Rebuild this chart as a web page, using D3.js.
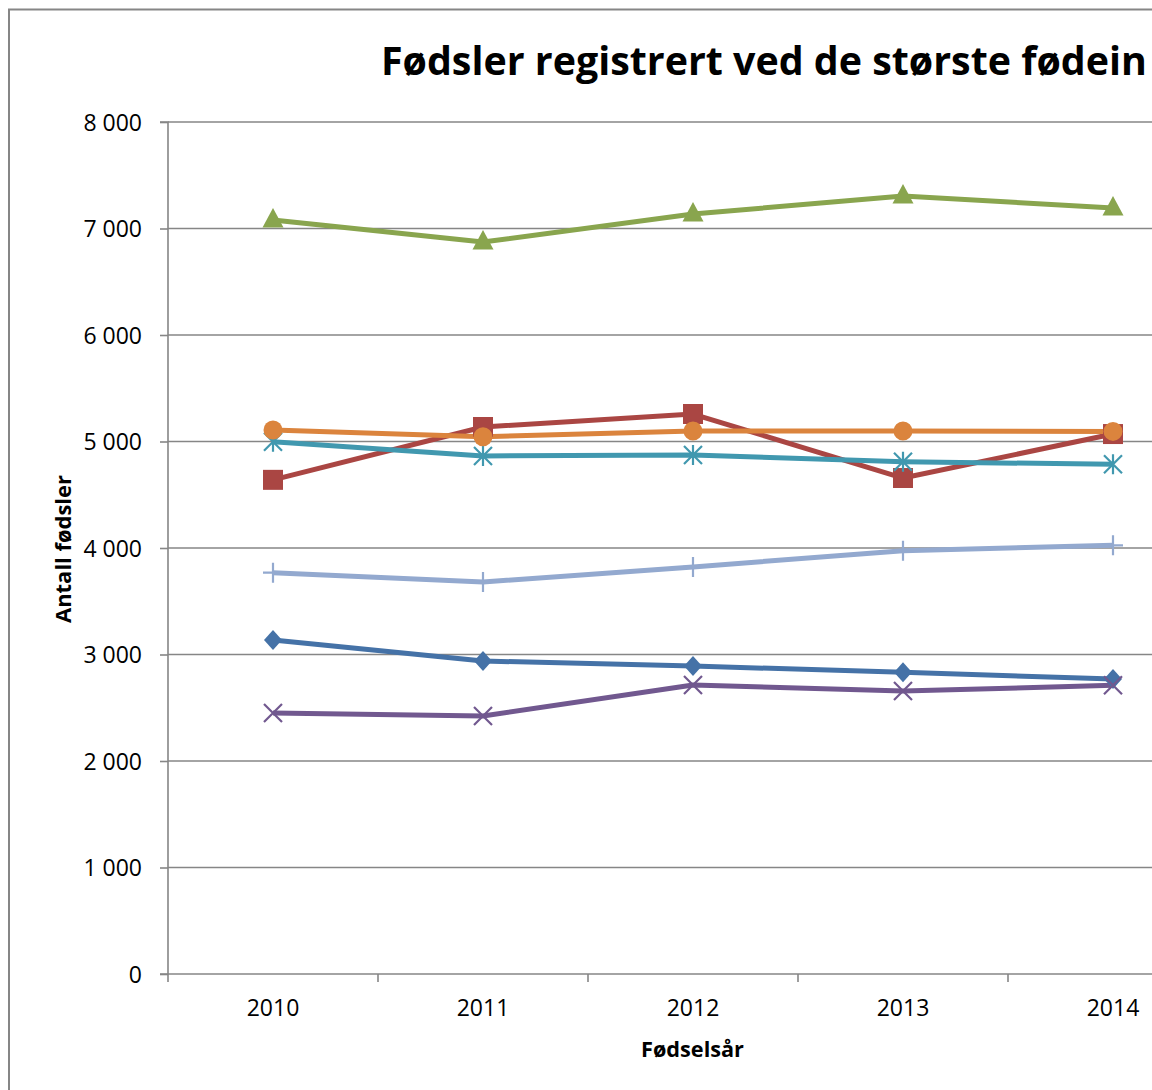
<!DOCTYPE html>
<html>
<head>
<meta charset="utf-8">
<script src="https://cdn.jsdelivr.net/npm/d3@7"></script>
<style>
  html, body { margin: 0; padding: 0; background: #fff; overflow: hidden; }
  svg { display: block; }
  text { font-family: "Open Sans", "Liberation Sans", sans-serif; fill: #000; }
</style>
</head>
<body>
<svg id="chart" width="1152" height="1090"></svg>
<script>
// ---- Data ----
const years = ["2010", "2011", "2012", "2013", "2014"];
const yTicks = [0, 1000, 2000, 3000, 4000, 5000, 6000, 7000, 8000];
const seriesBlueDiamond  = [3136, 2939, 2892, 2833, 2770];
const seriesRedSquare    = [4640, 5136, 5258, 4657, 5070];
const seriesGreenTri     = [7080, 6873, 7136, 7305, 7192];
const seriesPurpleX      = [2451, 2423, 2714, 2657, 2711];
const seriesTealStar     = [4998, 4864, 4873, 4810, 4786];
const seriesOrangeCircle = [5108, 5044, 5099, 5099, 5095];
const seriesLightPlus    = [3768, 3681, 3822, 3975, 4025];

// Title as visible in the (cropped) reference
const titleText = "Fødsler registrert ved de største fødein";
const yTitle = "Antall fødsler";
const xTitle = "Fødselsår";

const series = [
  { values: seriesBlueDiamond,  color: "#4572A7", marker: "diamond" },
  { values: seriesRedSquare,    color: "#AA4643", marker: "square" },
  { values: seriesGreenTri,     color: "#89A54E", marker: "triangle" },
  { values: seriesPurpleX,      color: "#71588F", marker: "x" },
  { values: seriesTealStar,     color: "#4198AF", marker: "star" },
  { values: seriesOrangeCircle, color: "#DB843D", marker: "circle" },
  { values: seriesLightPlus,    color: "#93A9CF", marker: "plus" }
];

// ---- Layout ----
const svg = d3.select("#chart");
const plotLeft = 168, plotTop = 122, plotBottom = 974, bandW = 210;
const gridColor = "#868686";

const x = d3.scaleBand().domain(years).range([plotLeft, plotLeft + bandW * years.length]).paddingInner(0).paddingOuter(0);
const y = d3.scaleLinear().domain([0, 8000]).range([plotBottom, plotTop]);

const locale = d3.formatLocale({ decimal: ",", thousands: " ", grouping: [3], currency: ["", " kr"] });
const fmt = locale.format(",d");

// Outer chart border (left & top visible)
svg.append("path")
  .attr("d", `M9,1090 L9,9.5 L1152,9.5`)
  .attr("fill", "none").attr("stroke", gridColor).attr("stroke-width", 2);

// Gridlines
svg.append("g").selectAll("line").data(yTicks.filter(d => d > 0)).join("line")
  .attr("x1", plotLeft).attr("x2", 1152)
  .attr("y1", d => y(d)).attr("y2", d => y(d))
  .attr("stroke", gridColor).attr("stroke-width", 1.6);

// Y axis
const yAxis = svg.append("g").attr("transform", `translate(${plotLeft},0)`)
  .call(d3.axisLeft(y).tickValues(yTicks).tickFormat(fmt).tickSize(8).tickPadding(18));
yAxis.select(".domain").attr("stroke", gridColor).attr("stroke-width", 1.6).attr("d", `M-8,${plotTop}H0V${plotBottom}`);
yAxis.selectAll(".tick line").attr("stroke", gridColor).attr("stroke-width", 1.6);
yAxis.selectAll(".tick text").attr("font-size", 23).attr("font-family", "'Open Sans', sans-serif").attr("fill", "#000").attr("dy", "0.36em");

// X axis
const xAxis = svg.append("g").attr("transform", `translate(0,${plotBottom})`)
  .call(d3.axisBottom(x).tickSize(0).tickPadding(26));
xAxis.select(".domain").attr("stroke", gridColor).attr("stroke-width", 1.6).attr("d", `M${plotLeft - 8},0H1152`);
xAxis.selectAll(".tick text").attr("font-size", 23).attr("font-family", "'Open Sans', sans-serif").attr("fill", "#000");
// Boundary ticks between categories
const boundaries = years.map(d => x(d)).concat([x(years[years.length - 1]) + x.bandwidth()]);
xAxis.append("g").selectAll("line").data(boundaries).join("line")
  .attr("x1", d => d).attr("x2", d => d).attr("y1", 0).attr("y2", 8)
  .attr("stroke", gridColor).attr("stroke-width", 1.6);

// Helper to fit text width
function fitWidth(sel, target) {
  const w = sel.node().getComputedTextLength();
  return w > 0 ? target / w : 1;
}

// Axis titles
const xt = svg.append("text").text(xTitle)
  .attr("font-weight", "bold").attr("font-size", 22).attr("text-anchor", "middle");
xt.attr("transform", `translate(692.5,1057) scale(${fitWidth(xt, 103)},1)`);

const yt = svg.append("text").text(yTitle)
  .attr("font-weight", "bold").attr("font-size", 22).attr("text-anchor", "middle");
yt.attr("transform", `translate(70.5,549) rotate(-90) scale(${fitWidth(yt, 148)},1)`);

// Title
const tt = svg.append("text").text(titleText)
  .attr("font-weight", "bold").attr("font-size", 39).attr("text-anchor", "start");
tt.attr("transform", `translate(381,75) scale(${fitWidth(tt, 766)},1)`);

// Lines
const line = d3.line().x((d, i) => x(years[i]) + x.bandwidth() / 2).y(d => y(d));
const plot = svg.append("g");
series.forEach(s => {
  plot.append("path").datum(s.values).attr("d", line)
    .attr("fill", "none").attr("stroke", s.color).attr("stroke-width", 5)
    .attr("stroke-linejoin", "round");
});

// Markers
function markerPath(type, cx, cy) {
  const p = d3.path();
  if (type === "diamond") {
    p.moveTo(cx, cy - 10); p.lineTo(cx + 9, cy); p.lineTo(cx, cy + 10); p.lineTo(cx - 9, cy); p.closePath();
  } else if (type === "square") {
    p.rect(cx - 10, cy - 10, 20, 20);
  } else if (type === "triangle") {
    p.moveTo(cx, cy - 12); p.lineTo(cx + 10.5, cy + 7.5); p.lineTo(cx - 10.5, cy + 7.5); p.closePath();
  } else if (type === "circle") {
    p.arc(cx, cy, 9.5, 0, 2 * Math.PI);
  } else {
    const r = 9;
    if (type === "x" || type === "star") {
      p.moveTo(cx - r, cy - r); p.lineTo(cx + r, cy + r);
      p.moveTo(cx - r, cy + r); p.lineTo(cx + r, cy - r);
    }
    if (type === "star" || type === "plus") {
      p.moveTo(cx, cy - r - 1); p.lineTo(cx, cy + r + 1);
    }
    if (type === "plus") {
      p.moveTo(cx - r - 1, cy); p.lineTo(cx + r + 1, cy);
    }
  }
  return p.toString();
}
const filled = new Set(["diamond", "square", "triangle", "circle"]);
series.forEach(s => {
  const g = plot.append("g");
  g.selectAll("path").data(s.values).join("path")
    .attr("d", (v, i) => markerPath(s.marker, x(years[i]) + x.bandwidth() / 2, y(v)))
    .attr("fill", filled.has(s.marker) ? s.color : "none")
    .attr("stroke", filled.has(s.marker) ? "none" : s.color)
    .attr("stroke-width", 2.2);
});
</script>
</body>
</html>
